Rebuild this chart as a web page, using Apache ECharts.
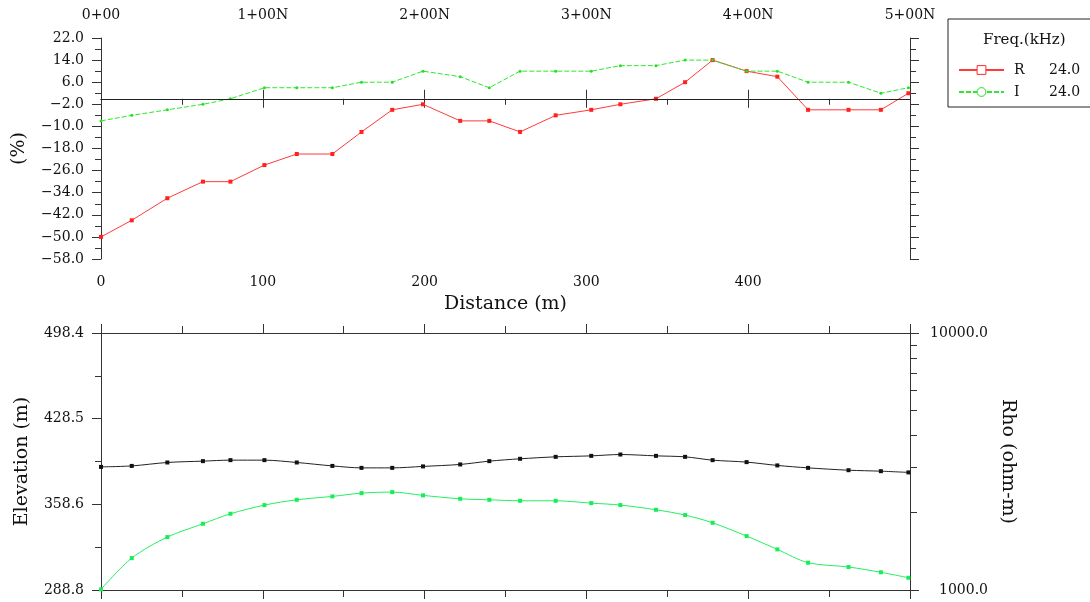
<!DOCTYPE html>
<html>
<head>
<meta charset="utf-8">
<script src="https://cdn.jsdelivr.net/npm/echarts@6/dist/echarts.min.js"></script>
<style>
  html, body { margin: 0; padding: 0; background: #fff; }
  #vlf { width: 1090px; height: 602px; }
</style>
</head>
<body>
<div id="vlf"></div>
<script>
// station distances (m) and readings
var distance  = [0, 19, 41, 63, 80, 101, 121, 143, 161, 180, 199, 222, 240, 259, 281, 303, 321, 343, 361, 378, 399, 418, 437, 462, 482, 499];
var inPhase   = [-50, -44, -36, -30, -30, -24, -20, -20, -12, -4, -2, -8, -8, -12, -6, -4, -2, 0, 6, 14, 10, 8, -4, -4, -4, 2];
var quadrature = [-8, -6, -4, -2, 0, 4, 4, 4, 6, 6, 10, 8, 4, 10, 10, 10, 12, 12, 14, 14, 10, 10, 6, 6, 2, 4];
var elevation = [389.2, 390.0, 392.8, 393.9, 394.7, 394.7, 392.8, 390.0, 388.4, 388.4, 389.6, 391.2, 393.9, 395.8, 397.4, 398.2, 399.3, 398.2, 397.4, 394.7, 393.1, 390.4, 388.4, 386.5, 385.7, 384.7];
var rho       = [1006, 1331, 1607, 1810, 1980, 2140, 2244, 2313, 2382, 2404, 2334, 2264, 2244, 2224, 2224, 2178, 2140, 2052, 1957, 1826, 1621, 1439, 1277, 1229, 1172, 1116];

var stationLabels = ['0+00', '1+00N', '2+00N', '3+00N', '4+00N', '5+00N'];
var pctLabels  = [-58, -50, -42, -34, -26, -18, -10, -2, 6, 14, 22];
var pctMinor   = [-54, -46, -38, -30, -22, -14, -6, 2, 10, 18];
var elevLabels = [288.8, 358.6, 428.5, 498.4];
var elevMinor  = [323.7, 393.6, 463.4];
var rhoLabels  = [1000, 10000];
var rhoMinor   = [2000, 3000, 4000, 5000, 6000, 7000, 8000, 9000];
var freqNames  = ['R', 'I'];
var freqValues = [24.0, 24.0];

var FONT = 'DejaVu Serif';
var AX = '#333';

function pairs(ys) {
    return distance.map(function (d, i) { return [d, ys[i]]; });
}

var vlfChart = echarts.init(document.getElementById('vlf'), null, { renderer: 'canvas' });

function tickAxis(o) {
    // shared look of the plain frame axes
    var base = {
        axisLine: { show: true, lineStyle: { color: AX, width: 1 } },
        axisTick: { show: true, inside: false, length: 9, lineStyle: { color: AX } },
        axisLabel: { show: false, color: '#111', fontFamily: FONT, fontSize: 14 },
        splitLine: { show: false }
    };
    return echarts.util.merge(base, o, true);
}

var option = {
    animation: false,
    backgroundColor: '#fff',
    textStyle: { fontFamily: FONT },
    title: {
        text: 'Freq.(kHz)',
        left: 978,
        top: 28,
        textStyle: { fontFamily: FONT, fontSize: 15, fontWeight: 'normal', color: '#111' }
    },
    legend: {
        data: [
            { name: 'R', itemStyle: { color: '#fff', borderColor: '#ff2a2a', borderWidth: 1 } },
            { name: 'I', itemStyle: { color: '#fff', borderColor: '#22e022', borderWidth: 1 } }
        ],
        orient: 'vertical',
        left: 948,
        top: 19,
        padding: [44, 30, 8, 10],
        itemGap: 8,
        itemWidth: 45,
        itemHeight: 11,
        borderColor: '#222',
        borderWidth: 1,
        selectedMode: false,
        formatter: function (name) {
            var i = freqNames.indexOf(name);
            return '{a|' + name + '}{b|' + freqValues[i].toFixed(1) + '}';
        },
        textStyle: {
            fontFamily: FONT, fontSize: 14, color: '#111',
            rich: {
                a: { fontFamily: FONT, fontSize: 14, width: 35, padding: [0, 0, 0, 5] },
                b: { fontFamily: FONT, fontSize: 14 }
            }
        }
    },
    grid: [
        { left: 101, top: 38, width: 809, height: 221 },
        { left: 101, top: 333, width: 809, height: 257 }
    ],
    xAxis: [
        tickAxis({
            type: 'value', gridIndex: 0, position: 'bottom', min: 0, max: 500, interval: 100,
            minorTick: { show: true, splitNumber: 2, length: 6, lineStyle: { color: AX } },
            axisLabel: { show: true, margin: 16, showMaxLabel: false },
            name: 'Distance (m)', nameLocation: 'middle', nameGap: 36,
            nameTextStyle: { fontFamily: FONT, fontSize: 19, color: '#111' }
        }),
        tickAxis({
            type: 'value', gridIndex: 0, position: 'top', min: 0, max: 500, interval: 100,
            axisLabel: {
                show: true, margin: 16,
                formatter: function (v) { return stationLabels[Math.round(v / 100)]; }
            }
        }),
        tickAxis({
            type: 'value', gridIndex: 1, position: 'bottom', min: 0, max: 500, interval: 100,
            minorTick: { show: true, splitNumber: 2, length: 7, lineStyle: { color: AX } }
        }),
        tickAxis({
            type: 'value', gridIndex: 1, position: 'top', min: 0, max: 500, interval: 100,
            minorTick: { show: true, splitNumber: 2, length: 7, lineStyle: { color: AX } }
        })
    ],
    yAxis: [
        // 0: percent, left
        tickAxis({
            type: 'value', gridIndex: 0, position: 'left', min: -58, max: 22,
            axisTick: { customValues: pctLabels },
            axisLabel: {
                show: true, margin: 17, customValues: pctLabels,
                formatter: function (v) { return v.toFixed(1).replace('-', '\u2212'); }
            },
            name: '(%)', nameLocation: 'middle', nameGap: 72, nameRotate: 90,
            nameTextStyle: { fontFamily: FONT, fontSize: 19, color: '#111' }
        }),
        tickAxis({
            type: 'value', gridIndex: 0, position: 'left', min: -58, max: 22,
            axisLine: { show: false }, axisTick: { customValues: pctMinor, length: 6 }
        }),
        // 2,3: percent, right frame
        tickAxis({
            type: 'value', gridIndex: 0, position: 'right', min: -58, max: 22,
            axisTick: { customValues: pctLabels }
        }),
        tickAxis({
            type: 'value', gridIndex: 0, position: 'right', min: -58, max: 22,
            axisLine: { show: false }, axisTick: { customValues: pctMinor, length: 6 }
        }),
        // 4: elevation, left
        tickAxis({
            type: 'value', gridIndex: 1, position: 'left', min: 288.8, max: 498.4,
            axisTick: { customValues: elevLabels },
            axisLabel: {
                show: true, margin: 17, customValues: elevLabels,
                formatter: function (v) { return v.toFixed(1); }
            },
            name: 'Elevation (m)', nameLocation: 'middle', nameGap: 69, nameRotate: 90,
            nameTextStyle: { fontFamily: FONT, fontSize: 19, color: '#111' }
        }),
        tickAxis({
            type: 'value', gridIndex: 1, position: 'left', min: 288.8, max: 498.4,
            axisLine: { show: false }, axisTick: { customValues: elevMinor, length: 6 }
        }),
        // 6: rho, right, log
        tickAxis({
            type: 'log', logBase: 10, gridIndex: 1, position: 'right', min: 1000, max: 10000,
            axisTick: { customValues: rhoLabels },
            axisLabel: {
                show: true, margin: 78, align: 'right', customValues: rhoLabels,
                formatter: function (v) { return Number(v).toFixed(1); }
            },
            name: 'Rho (ohm-m)', nameLocation: 'middle', nameGap: 87, nameRotate: -90,
            nameTextStyle: { fontFamily: FONT, fontSize: 19, color: '#111' }
        }),
        tickAxis({
            type: 'log', logBase: 10, gridIndex: 1, position: 'right', min: 1000, max: 10000,
            axisLine: { show: false }, axisTick: { customValues: rhoMinor, length: 7 }
        })
    ],
    series: [
        {
            name: 'R',
            type: 'line',
            xAxisIndex: 0, yAxisIndex: 0,
            data: pairs(inPhase),
            symbol: 'rect', symbolSize: 4,
            itemStyle: { color: '#ff2020' },
            lineStyle: { color: '#ff3a3a', width: 1 },
            markLine: {
                silent: true, symbol: 'none',
                label: { show: false },
                lineStyle: { color: '#222', type: 'solid', width: 1 },
                data: [{ yAxis: 0 }]
            }
        },
        {
            name: 'I',
            type: 'line',
            xAxisIndex: 0, yAxisIndex: 0,
            data: pairs(quadrature),
            symbol: 'circle', symbolSize: 3,
            itemStyle: { color: '#22e022' },
            lineStyle: { color: '#2ee82e', width: 1, type: [5, 2] }
        },
        {
            name: 'Elevation',
            type: 'line',
            xAxisIndex: 2, yAxisIndex: 4,
            data: pairs(elevation),
            smooth: 0.3,
            symbol: 'rect', symbolSize: 4,
            itemStyle: { color: '#111' },
            lineStyle: { color: '#222', width: 1 }
        },
        {
            name: 'Rho',
            type: 'line',
            xAxisIndex: 2, yAxisIndex: 6,
            data: pairs(rho),
            smooth: 0.3,
            symbol: 'rect', symbolSize: 4,
            itemStyle: { color: '#18ec58' },
            lineStyle: { color: '#22f060', width: 1 }
        }
    ]
};

vlfChart.setOption(option);
</script>
</body>
</html>
